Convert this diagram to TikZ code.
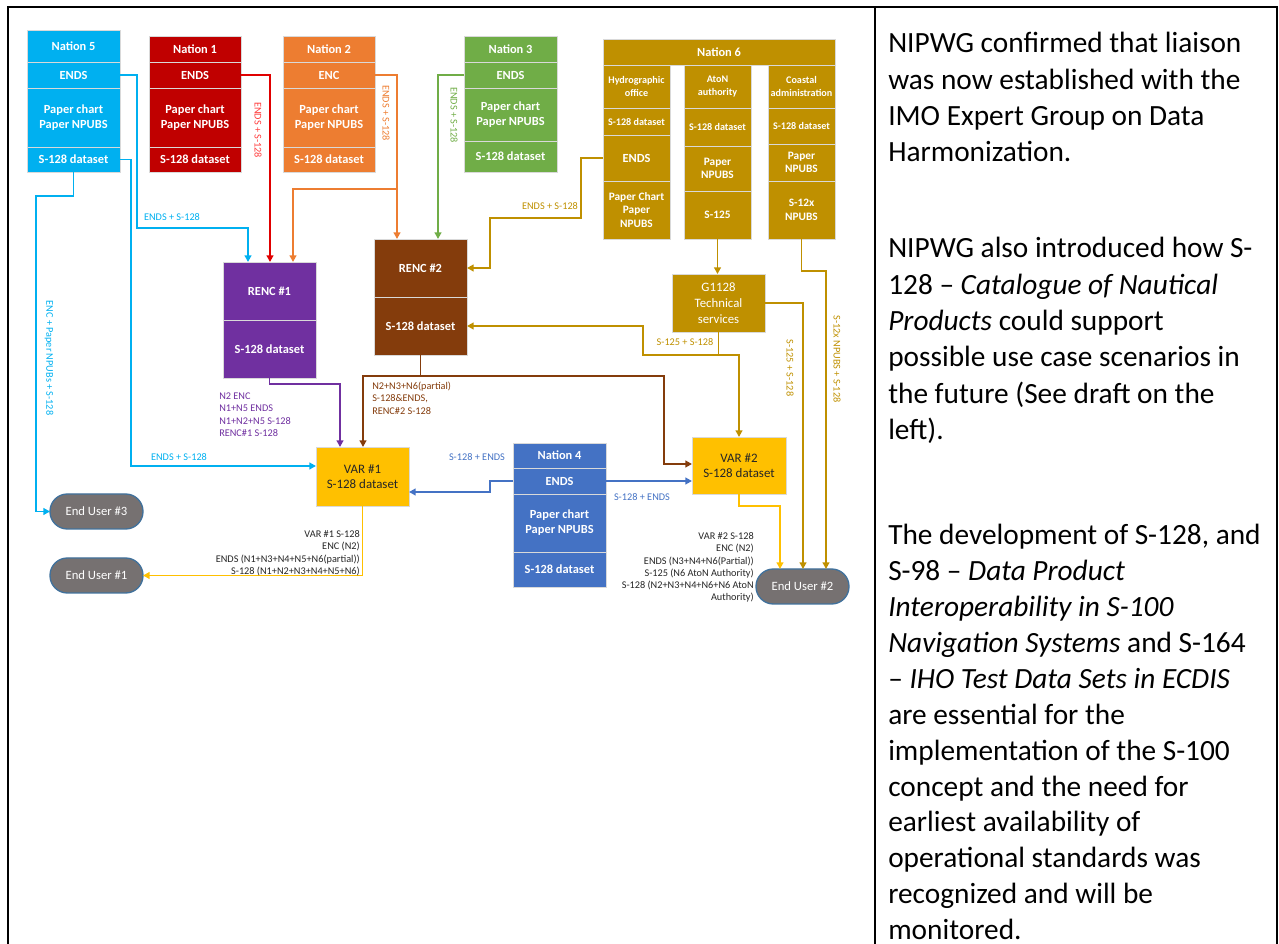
\documentclass[tikz,border=0pt]{standalone}
\usepackage{fontspec}
\setmainfont{Carlito}
\usetikzlibrary{arrows.meta}
\definecolor{cN5}{HTML}{00B0F0}
\definecolor{cN1}{HTML}{C00000}
\definecolor{cN2}{HTML}{ED7D31}
\definecolor{cN3}{HTML}{70AD47}
\definecolor{cN6}{HTML}{BF9000}
\definecolor{cR1}{HTML}{7030A0}
\definecolor{cR2}{HTML}{843C0C}
\definecolor{cVar}{HTML}{FFC000}
\definecolor{cN4}{HTML}{4472C4}
\definecolor{cEU}{HTML}{767171}
\definecolor{cEUb}{HTML}{41719C}
\definecolor{cRed}{HTML}{E00000}
\definecolor{cRedL}{HTML}{FF3B3B}
\definecolor{cBord}{HTML}{D9D9D9}
\definecolor{cTxt}{HTML}{262626}
\tikzset{
 cell/.style={draw=cBord, line width=0.6pt, inner sep=1pt, outer sep=0pt, text=white, align=center,
   font=\fontsize{9.3}{11.2}\selectfont\bfseries},
 smallf/.style={font=\fontsize{7.6}{9.2}\selectfont\bfseries},
 midf/.style={font=\fontsize{8.5}{10.3}\selectfont\bfseries},
 varf/.style={text=cTxt, font=\fontsize{9.7}{11.3}\selectfont},
 gf/.style={font=\fontsize{9.6}{11.8}\selectfont},
 enduser/.style={draw=cEUb, fill=cEU, line width=1pt, rounded corners=13pt, inner sep=1pt, outer sep=0pt,
   text=white, font=\fontsize{9.5}{11}\selectfont, minimum width=69.75pt, minimum height=26.25pt},
 conn/.style={line width=1.3pt, -{Triangle[length=4.9pt,width=5pt]}},
 plain/.style={line width=1.3pt},
 lbl/.style={font=\fontsize{7.7}{9.2}\selectfont, inner sep=0pt},
 frame/.style={line width=1.5pt, black},
}
\newcommand{\bx}[7][]{\node[cell,#1,fill=#7,minimum width={(#4-#2)*0.75pt},minimum height={(#5-#3)*0.75pt}] (#6) at ({(#2+#4)/2},{(#3+#5)/2})}
\begin{document}
\begin{tikzpicture}[x=0.75pt,y=-0.75pt]
\useasboundingbox (0,0) rectangle (1279,944);
% frame
\draw[frame] (8,944) -- (8,7) -- (1277,7) -- (1277,944);
\draw[frame] (875,7) -- (875,944);

% Nation 5
\bx{27}{30}{120}{62}{n5h}{cN5} {Nation 5};
\bx{27}{62}{120}{88}{n5e}{cN5} {ENDS};
\bx{27}{88}{120}{147}{n5p}{cN5} {Paper chart\\Paper NPUBS};
\bx{27}{147}{120}{172}{n5s}{cN5} {S-128 dataset};
% Nation 1
\bx{149}{36}{241}{62}{n1h}{cN1} {Nation 1};
\bx{149}{62}{241}{88}{n1e}{cN1} {ENDS};
\bx{149}{88}{241}{147}{n1p}{cN1} {Paper chart\\Paper NPUBS};
\bx{149}{147}{241}{172}{n1s}{cN1} {S-128 dataset};
% Nation 2
\bx{283}{36}{375}{62}{n2h}{cN2} {Nation 2};
\bx{283}{62}{375}{88}{n2e}{cN2} {ENC};
\bx{283}{88}{375}{147}{n2p}{cN2} {Paper chart\\Paper NPUBS};
\bx{283}{147}{375}{172}{n2s}{cN2} {S-128 dataset};
% Nation 3
\bx{464}{36}{557}{62}{n3h}{cN3} {Nation 3};
\bx{464}{62}{557}{88}{n3e}{cN3} {ENDS};
\bx{464}{88}{557}{141}{n3p}{cN3} {Paper chart\\Paper NPUBS};
\bx{464}{141}{557}{172}{n3s}{cN3} {S-128 dataset};
% Nation 6
\bx{603}{39}{835}{65}{n6h}{cN6} {Nation 6};
\bx[smallf]{603}{65}{670}{108}{h1}{cN6} {Hydrographic\\office};
\bx[smallf]{603}{108}{670}{135}{h2}{cN6} {S-128 dataset};
\bx{603}{135}{670}{181}{h3}{cN6} {ENDS};
\bx[midf]{603}{181}{670}{239}{h4}{cN6} {Paper Chart\\Paper\\NPUBS};
\bx[smallf]{684}{65}{751}{108}{a1}{cN6} {AtoN\\authority};
\bx[smallf]{684}{108}{751}{146}{a2}{cN6} {S-128 dataset};
\bx[midf]{684}{146}{751}{191}{a3}{cN6} {Paper\\NPUBS};
\bx[midf]{684}{191}{751}{239}{a4}{cN6} {S-125};
\bx[smallf]{768}{65}{835}{108}{c1}{cN6} {Coastal\\administration};
\bx[smallf]{768}{108}{835}{144}{c2}{cN6} {S-128 dataset};
\bx[midf]{768}{144}{835}{181}{c3}{cN6} {Paper\\NPUBS};
\bx[midf]{768}{181}{835}{239}{c4}{cN6} {S-12x\\NPUBS};
% RENC
\bx{223}{262}{316}{320}{r1a}{cR1} {RENC \#1};
\bx{223}{320}{316}{378}{r1b}{cR1} {S-128 dataset};
\bx{374}{239}{467}{297}{r2a}{cR2} {RENC \#2};
\bx{374}{297}{467}{355}{r2b}{cR2} {S-128 dataset};
% G1128
\bx[gf]{672}{274}{765}{332}{g}{cN6} {G1128\\Technical\\services};
% VAR
\bx[varf]{316}{447}{409}{506}{v1}{cVar} {VAR \#1\\S-128 dataset};
\bx[varf]{692}{437}{786}{494}{v2}{cVar} {VAR \#2\\S-128 dataset};
% Nation 4
\bx{513}{443}{606}{468}{n4h}{cN4} {Nation 4};
\bx{513}{468}{606}{494}{n4e}{cN4} {ENDS};
\bx{513}{494}{606}{552}{n4p}{cN4} {Paper chart\\Paper NPUBS};
\bx{513}{552}{606}{587}{n4s}{cN4} {S-128 dataset};
% End users
\node[enduser] (eu3) at (96.5,511.5) {End User \#3};
\node[enduser] (eu1) at (96.5,575.5) {End User \#1};
\node[enduser] (eu2) at (802.5,586.5) {End User \#2};

% ---- connectors
\draw[conn,cN5] (n5e.east) -| (137,228) -- (248,228) -- (248,0 |- r1a.north);
\draw[conn,cN5] (n5s.east) -| (131,466) -- (v1.west |- 131,466);
\draw[conn,cN5] (n5s.south) |- (36,196) |- (eu3.west);
\draw[conn,cRed] (n1e.east) -| (270,0 |- r1a.north);
\coordinate (j2) at (397,189);
\draw[conn,cN2] (n2e.east) -| (397,0 |- r2a.north);
\draw[conn,cN2] (j2) -| (293,0 |- r1a.north);
\draw[conn,cN3] (n3e.west) -| (438,0 |- r2a.north);
\draw[conn,cN6] (h3.west) -| (581,218) -| (490,240) |- (r2a.east);
\coordinate (j6) at (718.5,355);
\draw[plain,cN6] (g.south) -- (j6);
\draw[conn,cN6] (j6) -| (643,340) |- (r2b.east);
\draw[conn,cN6] (j6) -| (739,0 |- v2.north);
\draw[conn,cN6] (a4.south) -- (a4.south |- g.north);
\draw[conn,cN6] (g.east) -| (803,0 |- eu2.north);
\draw[conn,cN6] (c4.south) |- (826,271) -- (826,0 |- eu2.north);
\draw[conn,cVar] (v2.south) |- (780,506) -- (780,0 |- eu2.north);
\coordinate (j7) at (420.5,376);
\draw[plain,cR2] (r2b.south) -- (j7);
\draw[conn,cR2] (j7) -| (363,0 |- v1.north);
\draw[conn,cR2] (j7) -| (664,464) -- (v2.west |- 664,464);
\draw[conn,cR1] (r1b.south) |- (340,384) -- (340,0 |- v1.north);
\draw[conn,cVar] (v1.south) |- (eu1.east);
\draw[conn,cN4] (n4e.west) -| (490,492) -- (v1.east |- 490,492);
\draw[conn,cN4] (n4e.east) -- (n4e.east -| v2.west);

% ---- labels
\node[lbl,text=cN5] (l1) at (172,217) {ENDS + S-128};
\node[lbl,text=cN5] (l2) at (179,457) {ENDS + S-128};
\node[lbl,text=cN5,rotate=-90] (l3) at (49,358) {ENC + Paper NPUBs + S-128};
\node[lbl,text=cRedL,rotate=-90] (l4) at (258,130) {ENDS + S-128};
\node[lbl,text=cN2,rotate=-90] (l5) at (386,113) {ENDS + S-128};
\node[lbl,text=cN3,rotate=-90] (l6) at (454,115) {ENDS + S-128};
\node[lbl,text=cN6] (l7) at (550,206) {ENDS + S-128};
\node[lbl,text=cN6] (l8) at (685,342) {S-125 + S-128};
\node[lbl,text=cN6,rotate=-90] (l9) at (790,368) {S-125 + S-128};
\node[lbl,text=cN6,rotate=-90] (l10) at (837,359) {S-12x NPUBS + S-128};
\node[lbl,text=cN4] (l11) at (477,457) {S-128 + ENDS};
\node[lbl,text=cN4] (l12) at (642,497) {S-128 + ENDS};
\node[lbl,text=cR1,anchor=base west] (l13) at (219,399.5)
  {\begin{tabular}[t]{@{}l@{}}N2 ENC\\N1+N5 ENDS\\N1+N2+N5 S-128\\RENC\#1 S-128\end{tabular}};
\node[lbl,text=cR2,anchor=base west] (l14) at (372,389.5)
  {\begin{tabular}[t]{@{}l@{}}N2+N3+N6(partial)\\S-128\&ENDS,\\RENC\#2 S-128\end{tabular}};
\node[lbl,text=cTxt,anchor=base east] (l15) at (360,537.5)
  {\begin{tabular}[t]{@{}r@{}}VAR \#1 S-128\\ENC (N2)\\ENDS (N1+N3+N4+N5+N6(partial))\\S-128 (N1+N2+N3+N4+N5+N6)\end{tabular}};
\node[lbl,text=cTxt,anchor=base east] (l16) at (754,539.5)
  {\begin{tabular}[t]{@{}r@{}}VAR \#2 S-128\\ENC (N2)\\ENDS (N3+N4+N6(Partial))\\S-125 (N6 AtoN Authority)\\S-128 (N2+N3+N4+N6+N6 AtoN\\Authority)\end{tabular}};

% ---- right column text
\node[anchor=base west, inner sep=0pt] (p1) at (888,53)
 {\parbox[t]{300pt}{\raggedright\fontsize{22}{27.2}\selectfont
 NIPWG confirmed that liaison\\was now established with the\\IMO Expert Group on Data\\Harmonization.}};
\node[anchor=base west, inner sep=0pt] (p2) at (888,258)
 {\parbox[t]{300pt}{\raggedright\fontsize{22}{27.2}\selectfont
 NIPWG also introduced how S-\\128 – \textit{Catalogue of Nautical}\\\textit{Products} could support\\possible use case scenarios in\\the future (See draft on the\\left).}};
\node[anchor=base west, inner sep=0pt] (p3) at (888,545)
 {\parbox[t]{300pt}{\raggedright\fontsize{22}{26.9}\selectfont
 The development of S-128, and\\S-98 – \textit{Data Product}\\\textit{Interoperability in S-100}\\\textit{Navigation Systems} and S-164\\– \textit{IHO Test Data Sets in ECDIS}\\are essential for the\\implementation of the S-100\\concept and the need for\\earliest availability of\\operational standards was\\recognized and will be\\monitored.}};
\end{tikzpicture}
\end{document}
